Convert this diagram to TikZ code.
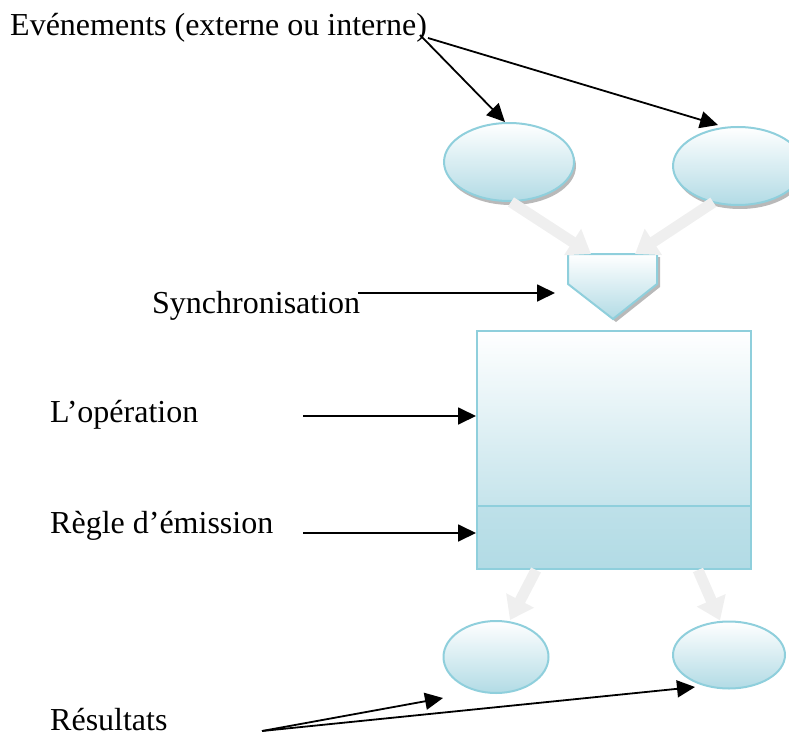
\documentclass[tikz,border=0pt]{standalone}
\usepackage{fontspec}
\setmainfont{Liberation Serif}
\usetikzlibrary{arrows.meta,shapes.geometric,shadows}
\definecolor{edgeblue}{HTML}{8FCFDC}
\definecolor{fillblue}{HTML}{B2DBE5}
\definecolor{flowgray}{HTML}{EFEFEF}
\tikzset{
  lbl/.style={anchor=base west, inner sep=0pt, font=\fontsize{32}{38}\selectfont},
  pointer/.style={draw=black, line width=1.8pt, -{Triangle[length=18pt,width=17pt]}},
  flow/.style={draw=flowgray, line width=11pt, -{Triangle[length=22pt,width=30pt]}},
  evt/.style={ellipse, draw=edgeblue, line width=2pt, top color=white, bottom color=fillblue,
    minimum width=130pt, minimum height=78pt, inner sep=0pt},
  evtshadow/.style={general shadow={shadow xshift=2pt, shadow yshift=-4pt, fill=gray!55}},
  res/.style={ellipse, draw=edgeblue, line width=2pt, top color=white, bottom color=fillblue,
    inner sep=0pt},
}
\begin{document}
\begin{tikzpicture}[x=1pt,y=-1pt]
\useasboundingbox (0,0) rectangle (789,738);

% event ellipses
\node[evt, evtshadow] (e1) at (509,162) {};
\node[evt, evtshadow] (e2) at (738,166) {};

% synchronisation pentagon
\coordinate (p1) at (568,254);
\coordinate (p2) at (657,254);
\coordinate (p3) at (657,284);
\coordinate (p4) at (613,319);
\coordinate (p5) at (568,284);
\fill[gray!55] ([shift={(3,3)}]p1) -- ([shift={(3,3)}]p2) -- ([shift={(3,3)}]p3) -- ([shift={(3,3)}]p4) -- ([shift={(3,3)}]p5) -- cycle;
\path[draw=edgeblue, line width=2pt, top color=white, bottom color=fillblue]
  (p1) -- (p2) -- (p3) -- (p4) -- (p5) -- cycle;
\coordinate (sync) at (613,254);

% operation box
\node[draw=edgeblue, line width=2pt, top color=white, bottom color=fillblue!75,
  minimum width=274pt, minimum height=175pt, inner sep=0pt, anchor=north west] (op) at (476,330) {};
\node[draw=edgeblue, line width=2pt, top color=fillblue!85, bottom color=fillblue,
  minimum width=274pt, minimum height=63pt, inner sep=0pt, anchor=north west] (emit) at (476,505) {};

% result ellipses
\node[res, minimum width=105pt, minimum height=72pt] (r1) at (496,657) {};
\node[res, minimum width=112pt, minimum height=67pt] (r2) at (729,655) {};

% flow arrows
\draw[flow] ([xshift=2pt]e1.south) -- ([xshift=-22pt]sync);
\draw[flow] (e2.south west) ++(22pt,-8pt) coordinate (e2s) -- ([xshift=22pt]sync);
\draw[flow] ([xshift=-78pt]emit.south) -- ([xshift=14pt]r1.north);
\draw[flow] ([xshift=84pt]emit.south) -- ([xshift=-9pt]r2.north);

% labels
\node[lbl] (tevt) at (10,36) {Evénements (externe ou interne)};
\node[lbl] (tsync) at (152,313) {Synchronisation};
\node[lbl] (top) at (50,422) {L’opération};
\node[lbl] (temit) at (50,533) {Règle d’émission};
\node[lbl] (tres) at (50,730) {Résultats};

% pointers
\coordinate (s1) at (420,35);
\coordinate (s2) at (428,38);
\coordinate (s3) at (358,293);
\coordinate (s4) at (303,416);
\coordinate (s5) at (303,533);
\coordinate (s6) at (262,731);
\draw[pointer] (s1) -- ([xshift=-4pt]e1.north);
\draw[pointer] (s2) -- ([shift={(-20pt,1pt)}]e2.north);
\draw[pointer] (s3) -- (555,293);
\draw[pointer] (s4) -- (op.west |- s4);
\draw[pointer] (s5) -- (emit.west |- s5);
\draw[pointer] (s6) -- (443,698);
\draw[pointer] (s6) -- (695,687);
\end{tikzpicture}
\end{document}
